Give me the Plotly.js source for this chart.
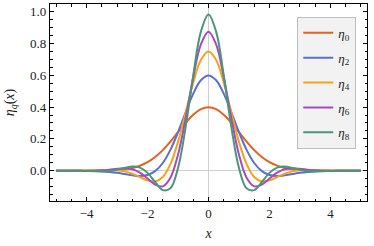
<!DOCTYPE html>
<html>
<head>
<meta charset="utf-8">
<script src="https://cdn.plot.ly/plotly-3.0.1.min.js"></script>
<style>html,body{margin:0;padding:0;background:#fff;}#chart{width:374px;height:246px;}</style>
</head>
<body>
<div id="chart"></div>
<script>
const xValues = [-5,-4.75,-4.5,-4.25,-4,-3.75,-3.5,-3.25,-3,-2.75,-2.5,-2.25,-2,-1.75,-1.5,-1.25,-1,-0.75,-0.5,-0.25,0,0.25,0.5,0.75,1,1.25,1.5,1.75,2,2.25,2.5,2.75,3,3.25,3.5,3.75,4,4.25,4.5,4.75,5];

const eta0 = [0.0000,0.0000,0.0000,0.0000,0.0001,0.0004,0.0009,0.0020,0.0044,0.0091,0.0175,0.0317,0.0540,0.0863,0.1295,0.1826,0.2420,0.3011,0.3521,0.3867,0.3989,0.3867,0.3521,0.3011,0.2420,0.1826,0.1295,0.0863,0.0540,0.0317,0.0175,0.0091,0.0044,0.0020,0.0009,0.0004,0.0001,0.0000,0.0000,0.0000,0.0000];

const eta2 = [0.0000,0.0000,-0.0001,-0.0004,-0.0009,-0.0020,-0.0040,-0.0077,-0.0133,-0.0207,-0.0285,-0.0327,-0.0270,-0.0027,0.0486,0.1313,0.2420,0.3670,0.4841,0.5679,0.5984,0.5679,0.4841,0.3670,0.2420,0.1313,0.0486,-0.0027,-0.0270,-0.0327,-0.0285,-0.0207,-0.0133,-0.0077,-0.0040,-0.0020,-0.0009,-0.0004,-0.0001,0.0000,0.0000];

const eta4 = [0.0001,0.0002,0.0004,0.0010,0.0019,0.0032,0.0046,0.0053,0.0033,-0.0039,-0.0185,-0.0397,-0.0607,-0.0674,-0.0395,0.0415,0.1815,0.3648,0.5529,0.6950,0.7480,0.6950,0.5529,0.3648,0.1815,0.0415,-0.0395,-0.0674,-0.0607,-0.0397,-0.0185,-0.0039,0.0033,0.0053,0.0046,0.0032,0.0019,0.0010,0.0004,0.0002,0.0001];

const eta6 = [-0.0002,-0.0003,-0.0006,-0.0008,-0.0008,0.0000,0.0024,0.0068,0.0122,0.0151,0.0091,-0.0120,-0.0484,-0.0869,-0.0980,-0.0442,0.1008,0.3288,0.5871,0.7936,0.8727,0.7936,0.5871,0.3288,0.1008,-0.0442,-0.0980,-0.0869,-0.0484,-0.0120,0.0091,0.0151,0.0122,0.0068,0.0024,0.0000,-0.0008,-0.0008,-0.0006,-0.0003,-0.0002];

const eta8 = [0.0001,0.0001,0.0000,-0.0005,-0.0015,-0.0028,-0.0032,-0.0009,0.0062,0.0174,0.0261,0.0198,-0.0134,-0.0707,-0.1217,-0.1105,0.0176,0.2741,0.5988,0.8737,0.9818,0.8737,0.5988,0.2741,0.0176,-0.1105,-0.1217,-0.0707,-0.0134,0.0198,0.0261,0.0174,0.0062,-0.0009,-0.0032,-0.0028,-0.0015,-0.0005,0.0000,0.0001,0.0001];

const seriesNames = ["<i>η</i><sub>0</sub>","<i>η</i><sub>2</sub>","<i>η</i><sub>4</sub>","<i>η</i><sub>6</sub>","<i>η</i><sub>8</sub>"];
const seriesValues = [eta0, eta2, eta4, eta6, eta8];
const seriesColors = ["#e4621d","#5b6fcf","#f5a31a","#a64bbf","#4a9679"];

const traces = seriesValues.map((vals, i) => ({
  x: xValues, y: vals, type: 'scatter', mode: 'lines',
  name: seriesNames[i], legendgroup: 'g' + i,
  line: {color: seriesColors[i], width: 2, shape: 'spline', smoothing: 1}
}));

const font = {family: 'Liberation Serif, Times New Roman, serif', size: 13, color: '#222'};

const layout = {
  width: 374, height: 246,
  margin: {l: 50, r: 7, t: 4, b: 45},
  paper_bgcolor: '#fff', plot_bgcolor: '#fff',
  font: font,
  showlegend: true,
  legend: {
    x: 0.78, y: 0.935, xanchor: 'left', yanchor: 'top',
    bgcolor: '#f2f2f2', bordercolor: '#bdbdbd', borderwidth: 1,
    font: {family: 'Liberation Serif, serif', size: 13, color: '#222'},
    tracegroupgap: 5, itemwidth: 30
  },
  xaxis: {
    range: [-5.2, 5.2], dtick: 2, tick0: 0,
    ticks: 'inside', ticklen: 4, tickwidth: 1, tickcolor: '#000',
    minor: {dtick: 0.5, ticks: 'inside', ticklen: 2.5, tickcolor: '#000', showgrid: false},
    showline: true, linecolor: '#000', linewidth: 1.2, mirror: 'ticks',
    showgrid: false, zeroline: true, zerolinecolor: '#cfcfcf', zerolinewidth: 1.5,
    title: {text: '<i>x</i>', font: {family: 'Liberation Serif, serif', size: 14, color: '#222'}, standoff: 8},
    tickfont: font
  },
  yaxis: {
    range: [-0.19, 1.047], dtick: 0.2, tick0: 0, tickformat: '.1f',
    ticks: 'inside', ticklen: 4, tickwidth: 1, tickcolor: '#000',
    minor: {dtick: 0.05, ticks: 'inside', ticklen: 2.5, tickcolor: '#000', showgrid: false},
    showline: true, linecolor: '#000', linewidth: 1.2, mirror: 'ticks',
    showgrid: false, zeroline: true, zerolinecolor: '#cfcfcf', zerolinewidth: 1.5,
    title: {text: '<i>η<sub>q</sub></i>(<i>x</i>)', font: {family: 'Liberation Serif, serif', size: 14, color: '#222'}, standoff: 12},
    tickfont: font
  }
};

Plotly.newPlot('chart', traces, layout, {staticPlot: true, displayModeBar: false});
</script>
</body>
</html>
